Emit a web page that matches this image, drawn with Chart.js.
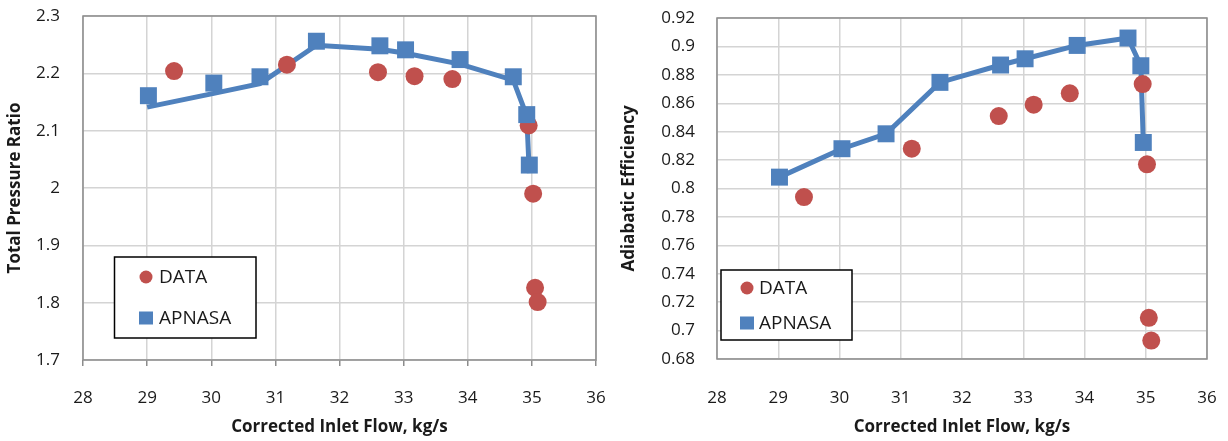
<!DOCTYPE html>
<html lang="en">
<head>
<meta charset="UTF-8">
<title>Compressor performance</title>
<script src="https://cdn.jsdelivr.net/npm/chart.js"></script>
<style>
    body {
        margin: 0;
        background: #fff;
        font-family: 'Open Sans', sans-serif;
    }

    .chart-box {
        position: absolute;
        top: 0;
        width: 614px;
        height: 441px;
    }

    #left-box { left: 0; }
    #right-box { left: 614px; }
</style>
</head>
<body>
<div class="chart-box" id="left-box"><canvas id="pr-chart"></canvas></div>
<div class="chart-box" id="right-box"><canvas id="eff-chart"></canvas></div>

<script>
    // test data (red circles)
    const dataFlow = [29.42, 31.18, 32.6, 33.17, 33.76, 34.95, 35.02, 35.05, 35.09];
    const dataPR   = [2.204, 2.215, 2.202, 2.195, 2.19, 2.109, 1.99, 1.826, 1.801];
    const dataEff  = [0.794, 0.828, 0.851, 0.859, 0.867, 0.8735, 0.817, 0.709, 0.693];

    // APNASA simulation (blue squares)
    const apnasaFlow = [29.02, 30.04, 30.76, 31.64, 32.63, 33.03, 33.88, 34.71, 34.92, 34.96];
    const apnasaPR   = [2.161, 2.183, 2.194, 2.256, 2.248, 2.241, 2.224, 2.194, 2.128, 2.04];
    const apnasaEff  = [0.808, 0.828, 0.8385, 0.8747, 0.8869, 0.8913, 0.9007, 0.9059, 0.8864, 0.8324];

    // APNASA curve on the pressure ratio plot (drawn a bit under the squares)
    const apnasaLineFlow = [29.0, 30.04, 30.76, 31.64, 32.63, 33.03, 33.88, 34.71, 34.92, 34.96];
    const apnasaLinePR   = [2.141, 2.165, 2.182, 2.249, 2.242, 2.235, 2.216, 2.188, 2.126, 2.026];

    const xTicks = [28, 29, 30, 31, 32, 33, 34, 35, 36];
    const prTicks = [1.7, 1.8, 1.9, 2.0, 2.1, 2.2, 2.3];
    const effTicks = [0.68, 0.7, 0.72, 0.74, 0.76, 0.78, 0.8, 0.82, 0.84, 0.86, 0.88, 0.9, 0.92];

    const RED = '#C0504D';
    const BLUE = '#4F81BD';
    const GRID = '#d4d4d4';
    const AXIS = '#8c8c8c';
    const TEXT = '#1a1a1a';
    const FONT = "'Open Sans', sans-serif";

    const pts = (xs, ys) => xs.map((x, i) => ({x: x, y: ys[i]}));

    // grey frame round the plot area
    const plotFrame = {
        id: 'plotFrame',
        beforeDatasetsDraw(chart) {
            const a = chart.chartArea;
            const ctx = chart.ctx;
            ctx.save();
            ctx.strokeStyle = AXIS;
            ctx.lineWidth = 1.5;
            ctx.strokeRect(a.left, a.top, a.right - a.left, a.bottom - a.top);
            ctx.restore();
        }
    };

    // boxed legend sitting inside the plot
    const insetLegend = {
        id: 'insetLegend',
        afterDraw(chart, args, opts) {
            const ctx = chart.ctx;
            ctx.save();
            ctx.fillStyle = '#fff';
            ctx.fillRect(opts.x, opts.y, opts.w, opts.h);
            ctx.strokeStyle = '#000';
            ctx.lineWidth = 1.5;
            ctx.strokeRect(opts.x, opts.y, opts.w, opts.h);
            ctx.font = '19px ' + FONT;
            ctx.textBaseline = 'middle';
            const items = chart.data.datasets.filter(d => d.label);
            items.forEach((ds, i) => {
                const cy = opts.rows[i];
                ctx.fillStyle = ds.backgroundColor;
                if (ds.pointStyle === 'rect') {
                    ctx.fillRect(opts.markerX - 7, cy - 6.5, 14, 13);
                } else {
                    ctx.beginPath();
                    ctx.arc(opts.markerX, cy, 6.5, 0, Math.PI * 2);
                    ctx.fill();
                }
                ctx.fillStyle = TEXT;
                ctx.fillText(ds.label, opts.textX, cy + 1);
            });
            ctx.restore();
        }
    };

    function makeOptions(cfg) {
        return {
            responsive: true,
            maintainAspectRatio: false,
            animation: false,
            layout: {padding: cfg.pad},
            plugins: {
                legend: {display: false},
                tooltip: {enabled: false},
                insetLegend: cfg.legend
            },
            scales: {
                x: {
                    type: 'linear',
                    min: 28,
                    max: 36,
                    afterBuildTicks: s => { s.ticks = xTicks.map(v => ({value: v})); },
                    afterFit: s => {
                        s.height = cfg.xHeight;
                        s.paddingLeft = 0;
                        s.paddingRight = 0;
                    },
                    grid: {
                        color: GRID,
                        lineWidth: 1.5,
                        drawTicks: cfg.xTickLen > 0,
                        tickLength: cfg.xTickLen,
                        tickColor: AXIS,
                        tickWidth: 1.5
                    },
                    border: {display: false},
                    ticks: {
                        color: TEXT,
                        padding: cfg.xPad,
                        maxRotation: 0,
                        font: {family: FONT, size: 17}
                    },
                    title: {
                        display: true,
                        text: 'Corrected Inlet Flow, kg/s',
                        color: TEXT,
                        padding: {top: 0, bottom: 4},
                        font: {family: FONT, size: 17, weight: 'bold'}
                    }
                },
                y: {
                    type: 'linear',
                    min: cfg.yTicks[0],
                    max: cfg.yTicks[cfg.yTicks.length - 1],
                    afterBuildTicks: s => { s.ticks = cfg.yTicks.map(v => ({value: v})); },
                    afterFit: s => {
                        s.width = cfg.yWidth;
                        s.paddingTop = 0;
                        s.paddingBottom = 0;
                    },
                    grid: {color: GRID, lineWidth: 1.5, drawTicks: false},
                    border: {display: false},
                    ticks: {
                        color: TEXT,
                        padding: cfg.yPad,
                        font: {family: FONT, size: 17},
                        callback: v => String(Number(v.toFixed(2)))
                    },
                    title: {
                        display: true,
                        text: cfg.yTitle,
                        color: TEXT,
                        padding: {top: 5, bottom: 0},
                        font: {family: FONT, size: 17, weight: 'bold'}
                    }
                }
            }
        };
    }

    new Chart(document.getElementById('pr-chart'), {
        type: 'scatter',
        data: {
            datasets: [{
                label: 'DATA',
                data: pts(dataFlow, dataPR),
                backgroundColor: RED,
                borderColor: RED,
                pointStyle: 'circle',
                pointRadius: 9,
                borderWidth: 0,
                order: 1
            }, {
                label: 'APNASA',
                data: pts(apnasaFlow, apnasaPR),
                backgroundColor: BLUE,
                borderColor: BLUE,
                pointStyle: 'rect',
                pointRadius: 12,
                borderWidth: 0,
                order: 0
            }, {
                data: pts(apnasaLineFlow, apnasaLinePR),
                showLine: true,
                borderColor: BLUE,
                backgroundColor: BLUE,
                borderWidth: 5,
                pointRadius: 0,
                order: 2
            }]
        },
        options: makeOptions({
            pad: {top: 16, right: 18, left: 0, bottom: 0},
            xHeight: 81,
            xTickLen: 6,
            xPad: 22,
            yWidth: 83,
            yPad: 23,
            yTicks: prTicks,
            yTitle: 'Total Pressure Ratio',
            legend: {x: 114.5, y: 257, w: 141.5, h: 81, markerX: 146, textX: 159, rows: [277, 318]}
        }),
        plugins: [plotFrame, insetLegend]
    });

    new Chart(document.getElementById('eff-chart'), {
        type: 'scatter',
        data: {
            datasets: [{
                label: 'DATA',
                data: pts(dataFlow, dataEff),
                backgroundColor: RED,
                borderColor: RED,
                pointStyle: 'circle',
                pointRadius: 9,
                borderWidth: 0,
                order: 0
            }, {
                label: 'APNASA',
                data: pts(apnasaFlow, apnasaEff),
                showLine: true,
                backgroundColor: BLUE,
                borderColor: BLUE,
                pointStyle: 'rect',
                pointRadius: 12,
                pointBorderWidth: 0,
                borderWidth: 5,
                order: 1
            }]
        },
        options: makeOptions({
            pad: {top: 18, right: 21, left: 0, bottom: 0},
            xHeight: 82,
            xTickLen: 0,
            xPad: 29,
            yWidth: 103,
            yPad: 22,
            yTicks: effTicks,
            yTitle: 'Adiabatic Efficiency',
            legend: {x: 107, y: 270, w: 131, h: 70, markerX: 133, textX: 145, rows: [288, 323]}
        }),
        plugins: [plotFrame, insetLegend]
    });
</script>
</body>
</html>
